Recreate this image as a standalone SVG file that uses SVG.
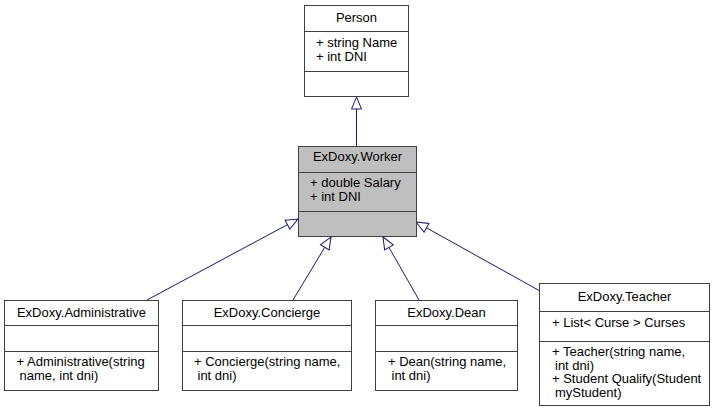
<svg xmlns="http://www.w3.org/2000/svg" width="717" height="412" viewBox="0 0 717 412">
<style>
.box{fill:#ffffff;stroke:#404040;stroke-width:1}
.sel{fill:#bfbfbf;stroke:#404040;stroke-width:1}
.sep{stroke:#404040;stroke-width:1}
text{font-family:"Liberation Sans",Arial,sans-serif;font-size:13px;fill:#000000}
.t{text-anchor:middle}
.edge{fill:none;stroke:#191970;stroke-width:1}
</style>
<defs>
<marker id="inh" viewBox="0 0 14 12" refX="13" refY="6" markerWidth="14" markerHeight="12" markerUnits="userSpaceOnUse" orient="auto">
<path d="M1,1 L13,6 L1,11 Z" fill="#ffffff" stroke="#191970" stroke-width="1"/>
</marker>
</defs>
<rect width="717" height="412" fill="#ffffff"/>
<g id="edges">
<path class="edge" d="M356.5,146 L356.5,97" marker-end="url(#inh)"/>
<path class="edge" d="M147,300 L298,219" marker-end="url(#inh)"/>
<path class="edge" d="M293,300 L331,237" marker-end="url(#inh)"/>
<path class="edge" d="M419,300 L383,237" marker-end="url(#inh)"/>
<path class="edge" d="M540,291 L416,222" marker-end="url(#inh)"/>
</g>
<g id="Person">
<rect class="box" x="304.5" y="5.5" width="104" height="91"/>
<line class="sep" x1="304.5" y1="31.5" x2="408.5" y2="31.5"/>
<line class="sep" x1="304.5" y1="71.5" x2="408.5" y2="71.5"/>
<text class="t" x="356.5" y="22">Person</text>
<text x="316" y="47">+ string Name</text>
<text x="316" y="61">+ int DNI</text>
</g>
<g id="Worker">
<rect class="sel" x="298.5" y="146.5" width="118" height="90"/>
<line class="sep" x1="298.5" y1="172.5" x2="416.5" y2="172.5"/>
<line class="sep" x1="298.5" y1="211.5" x2="416.5" y2="211.5"/>
<text class="t" x="357.5" y="161">ExDoxy.Worker</text>
<text x="310" y="187">+ double Salary</text>
<text x="310" y="201">+ int DNI</text>
</g>
<g id="Administrative">
<rect class="box" x="4.5" y="300.5" width="154" height="90"/>
<line class="sep" x1="4.5" y1="325.5" x2="158.5" y2="325.5"/>
<line class="sep" x1="4.5" y1="351.5" x2="158.5" y2="351.5"/>
<text class="t" x="81.5" y="317">ExDoxy.Administrative</text>
<text x="16.5" y="366">+ Administrative(string</text>
<text x="19.5" y="380">name, int dni)</text>
</g>
<g id="Concierge">
<rect class="box" x="182.5" y="300.5" width="169" height="90"/>
<line class="sep" x1="182.5" y1="325.5" x2="351.5" y2="325.5"/>
<line class="sep" x1="182.5" y1="351.5" x2="351.5" y2="351.5"/>
<text class="t" x="267" y="317">ExDoxy.Concierge</text>
<text x="194" y="366">+ Concierge(string name,</text>
<text x="197.5" y="380">int dni)</text>
</g>
<g id="Dean">
<rect class="box" x="375.5" y="300.5" width="142" height="90"/>
<line class="sep" x1="375.5" y1="325.5" x2="517.5" y2="325.5"/>
<line class="sep" x1="375.5" y1="351.5" x2="517.5" y2="351.5"/>
<text class="t" x="446.5" y="317">ExDoxy.Dean</text>
<text x="388" y="366">+ Dean(string name,</text>
<text x="391.5" y="380">int dni)</text>
</g>
<g id="Teacher">
<rect class="box" x="539.5" y="283.5" width="170" height="122"/>
<line class="sep" x1="539.5" y1="311.5" x2="709.5" y2="311.5"/>
<line class="sep" x1="539.5" y1="341.5" x2="709.5" y2="341.5"/>
<text class="t" x="624.5" y="301">ExDoxy.Teacher</text>
<text x="552" y="327">+ List&lt; Curse &gt; Curses</text>
<text x="552" y="356">+ Teacher(string name,</text>
<text x="555" y="369.5">int dni)</text>
<text x="552" y="383">+ Student Qualify(Student</text>
<text x="555" y="396.5">myStudent)</text>
</g>
</svg>
